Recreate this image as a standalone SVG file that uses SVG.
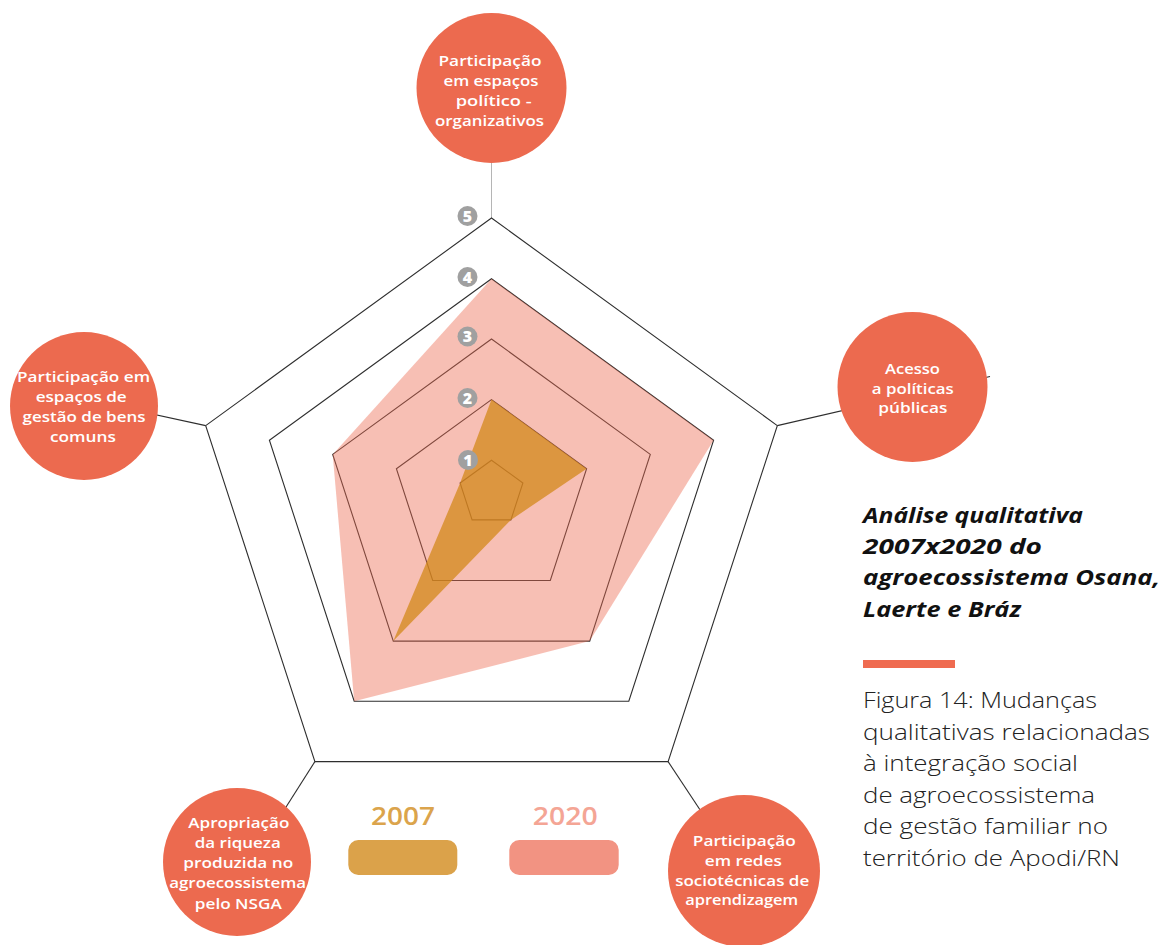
<svg xmlns="http://www.w3.org/2000/svg" width="1164" height="945" viewBox="0 0 1164 945">
<style>
.grid{fill:none;stroke:#2e2e2e;stroke-width:1.1;stroke-linejoin:miter}
.conn{fill:none;stroke:#2e2e2e;stroke-width:1.1}
.bub{fill:#ec6a4f}
.bt{font-family:"Open Sans","Liberation Sans",sans-serif;font-weight:600;font-size:15px;fill:#ffffff;text-anchor:middle}
.lvl{fill:#a0a0a0}
.lt{font-family:"Open Sans","Liberation Sans",sans-serif;font-weight:800;font-size:16px;fill:#ffffff;text-anchor:middle}
.title{font-family:"Open Sans","Liberation Sans",sans-serif;font-weight:700;font-style:italic;font-size:22px;fill:#111111}
.cap{font-family:"Open Sans","Liberation Sans",sans-serif;font-weight:300;font-size:22px;fill:#222222}
.leg{font-family:"Open Sans","Liberation Sans",sans-serif;font-weight:600;font-size:26px;text-anchor:middle}
</style>
<rect width="1164" height="945" fill="#ffffff"/>
<g id="connectors">
<line x1="491.5" y1="158" x2="491.5" y2="218" stroke="#b5b5b5" stroke-width="1"/>
<line class="conn" x1="205.7" y1="425.6" x2="120" y2="407"/>
<line class="conn" x1="777.3" y1="425.6" x2="990" y2="376.5"/>
<line class="conn" x1="314.9" y1="761.6" x2="260" y2="848"/>
<line class="conn" x1="668.1" y1="761.6" x2="720" y2="840"/>
</g>
<g id="radar-grid">
<polygon class="grid" points="491.5,218 777.3,425.6 668.1,761.6 314.9,761.6 205.7,425.6"/>
<polygon class="grid" points="491.5,278.8 713.6,440.2 628.8,701.2 354.2,701.2 269.4,440.2"/>
<polygon class="grid" points="491.5,339 650.3,454.4 589.7,641.1 393.3,641.1 332.7,454.4"/>
<polygon class="grid" points="491.5,399.6 586.6,468.7 550.3,580.5 432.7,580.5 396.4,468.7"/>
<polygon class="grid" points="491.5,460.2 522.9,483 510.9,519.9 472.1,519.9 460.1,483"/>
</g>
<g id="series-2020">
<polygon points="491.5,278.8 713.6,440.2 589.7,641.1 354.2,701.2 332.7,454.4" fill="#ec6a50" fill-opacity="0.43"/>
</g>
<g id="series-2007">
<polygon points="491.5,399.6 586.6,468.7 510.9,519.9 393.3,641.1 460.1,483" fill="#d38819" fill-opacity="0.75"/>
</g>
<g id="levels">
<circle class="lvl" cx="467.5" cy="216" r="10"/><text class="lt" x="467.5" y="221.8">5</text>
<circle class="lvl" cx="467.5" cy="277" r="10"/><text class="lt" x="467.5" y="282.8">4</text>
<circle class="lvl" cx="467.5" cy="336.5" r="10"/><text class="lt" x="467.5" y="342.3">3</text>
<circle class="lvl" cx="467.5" cy="398" r="10"/><text class="lt" x="467.5" y="403.8">2</text>
<circle class="lvl" cx="468" cy="460" r="10"/><text class="lt" x="468" y="465.8">1</text>
</g>
<g id="node-top">
<circle class="bub" cx="491.5" cy="88" r="75"/>
<text class="bt" x="490" y="66" textLength="103" lengthAdjust="spacingAndGlyphs">Participação</text>
<text class="bt" x="491" y="86" textLength="95" lengthAdjust="spacingAndGlyphs">em espaços</text>
<text class="bt" x="493.7" y="106" textLength="76" lengthAdjust="spacingAndGlyphs">político -</text>
<text class="bt" x="489.5" y="126" textLength="109" lengthAdjust="spacingAndGlyphs">organizativos</text>
</g>
<g id="node-left">
<circle class="bub" cx="84" cy="406" r="74"/>
<text class="bt" x="83.5" y="382" textLength="133" lengthAdjust="spacingAndGlyphs">Participação em</text>
<text class="bt" x="81.2" y="402.3" textLength="91" lengthAdjust="spacingAndGlyphs">espaços de</text>
<text class="bt" x="84" y="421.7" textLength="123" lengthAdjust="spacingAndGlyphs">gestão de bens</text>
<text class="bt" x="82.9" y="441.7" textLength="66" lengthAdjust="spacingAndGlyphs">comuns</text>
</g>
<g id="node-right">
<circle class="bub" cx="912.5" cy="387" r="75"/>
<text class="bt" x="912.5" y="374.3" textLength="55" lengthAdjust="spacingAndGlyphs">Acesso</text>
<text class="bt" x="912.8" y="394" textLength="82" lengthAdjust="spacingAndGlyphs">a políticas</text>
<text class="bt" x="912.8" y="413.3" textLength="69" lengthAdjust="spacingAndGlyphs">públicas</text>
</g>
<g id="node-bottom-left">
<circle class="bub" cx="237" cy="862" r="74"/>
<text class="bt" x="238.8" y="828.3" textLength="101" lengthAdjust="spacingAndGlyphs">Apropriação</text>
<text class="bt" x="237.8" y="848.3" textLength="86" lengthAdjust="spacingAndGlyphs">da riqueza</text>
<text class="bt" x="238.3" y="868.3" textLength="110" lengthAdjust="spacingAndGlyphs">produzida no</text>
<text class="bt" x="237.7" y="888.3" textLength="137" lengthAdjust="spacingAndGlyphs">agroecossistema</text>
<text class="bt" x="238.3" y="909" textLength="87" lengthAdjust="spacingAndGlyphs">pelo NSGA</text>
</g>
<g id="node-bottom-right">
<circle class="bub" cx="744" cy="871" r="76"/>
<text class="bt" x="744.3" y="845.7" textLength="103" lengthAdjust="spacingAndGlyphs">Participação</text>
<text class="bt" x="743.3" y="866" textLength="77" lengthAdjust="spacingAndGlyphs">em redes</text>
<text class="bt" x="742.2" y="885.7" textLength="134" lengthAdjust="spacingAndGlyphs">sociotécnicas de</text>
<text class="bt" x="741.7" y="905" textLength="113" lengthAdjust="spacingAndGlyphs">aprendizagem</text>
</g>
<g id="legend">
<text class="leg" x="403" y="825" fill="#dba44c" textLength="64" lengthAdjust="spacingAndGlyphs">2007</text>
<rect x="348.3" y="840" width="109" height="35" rx="10" fill="#dba24a"/>
<text class="leg" x="565.2" y="825" fill="#f4a595" textLength="65" lengthAdjust="spacingAndGlyphs">2020</text>
<rect x="509.3" y="840" width="109.4" height="35" rx="10" fill="#f29382"/>
</g>
<g id="title">
<text class="title" x="863" y="523" textLength="220" lengthAdjust="spacingAndGlyphs">Análise qualitativa</text>
<text class="title" x="863" y="554" textLength="179" lengthAdjust="spacingAndGlyphs">2007x2020 do</text>
<text class="title" x="863" y="585" textLength="297" lengthAdjust="spacingAndGlyphs">agroecossistema Osana,</text>
<text class="title" x="863" y="617" textLength="158" lengthAdjust="spacingAndGlyphs">Laerte e Bráz</text>
<rect x="863" y="660" width="92" height="8" fill="#ef6b50"/>
</g>
<g id="caption">
<text class="cap" x="863" y="708" textLength="234" lengthAdjust="spacingAndGlyphs">Figura 14: Mudanças</text>
<text class="cap" x="863" y="739.5" textLength="287" lengthAdjust="spacingAndGlyphs">qualitativas relacionadas</text>
<text class="cap" x="863" y="771" textLength="215" lengthAdjust="spacingAndGlyphs">à integração social</text>
<text class="cap" x="863" y="802.5" textLength="232" lengthAdjust="spacingAndGlyphs">de agroecossistema</text>
<text class="cap" x="863" y="834" textLength="245" lengthAdjust="spacingAndGlyphs">de gestão familiar no</text>
<text class="cap" x="863" y="865.5" textLength="257" lengthAdjust="spacingAndGlyphs">território de Apodi/RN</text>
</g>
</svg>
